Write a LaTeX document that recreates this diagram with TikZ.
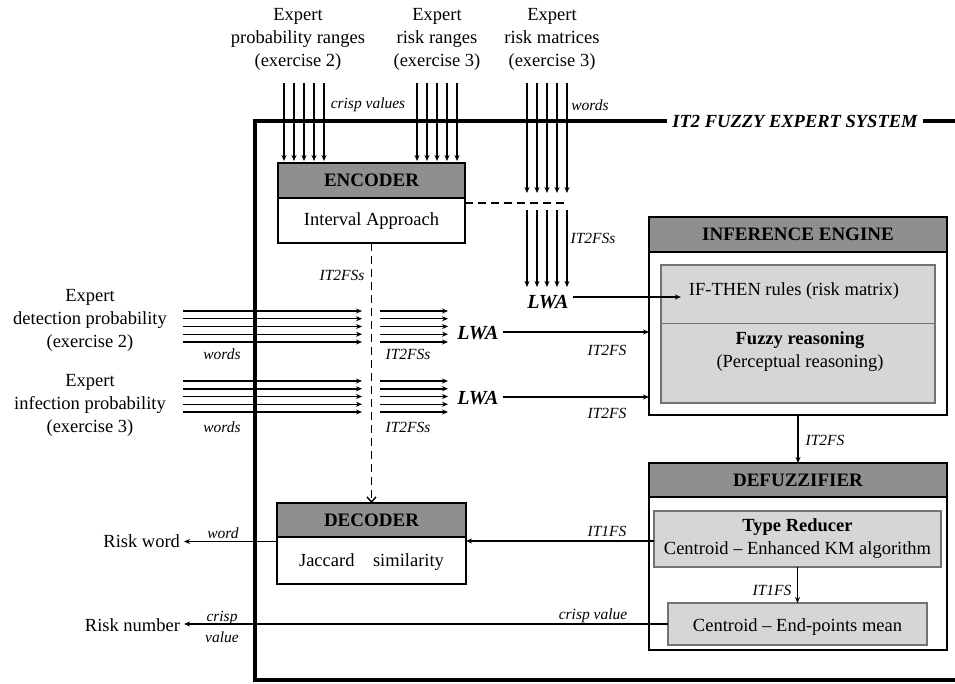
\documentclass[tikz,border=0pt]{standalone}
\usepackage{fontspec}
\setmainfont{Liberation Serif}
\usetikzlibrary{arrows.meta,calc}
\newcommand{\mkbox}[7]{%
  \node[box, minimum width=#4pt, minimum height=#5pt, anchor=north west] (#1) at (#2,#3) {};
  \fill[hdr] (#1.north west) rectangle ($(#1.north east)+(0,#6)$);
  \draw[line width=1.7pt] (#1.north west) rectangle (#1.south east);
  \draw[line width=1.2pt] ($(#1.north west)+(0,#6)$) -- ($(#1.north east)+(0,#6)$);
  \node[hdrtxt] (#1h) at ($(#1.north)+(0,#6/2)$) {#7};
}
\begin{document}
\begin{tikzpicture}[x=1pt,y=-1pt,
  every node/.style={inner sep=0pt, outer sep=0pt},
  txt/.style={font=\fontsize{18.5}{23}\selectfont, align=center},
  lbl/.style={font=\fontsize{15.5}{18}\selectfont\itshape},
  hdrtxt/.style={font=\fontsize{19}{22}\selectfont\bfseries},
  lwa/.style={font=\fontsize{20}{22}\selectfont\bfseries\itshape},
  arr/.style={line width=1.5pt, -{Stealth[length=6pt,width=5pt]}},
  box/.style={draw, line width=1.7pt, fill=white},
  hdr/.style={fill=black!44},
  inner/.style={draw=black!55, line width=1.3pt, fill=black!16},
  frame/.style={line width=3.4pt},
  dsh/.style={line width=1.4pt, dash pattern=on 8pt off 5pt},
]
\useasboundingbox (0,0) rectangle (955,684);

% big frame
\draw[frame] (955,680) -- (255,680) -- (255,121) -- (955,121);
\node[fill=white, inner xsep=5pt, inner ysep=2pt, font=\fontsize{18.5}{20}\selectfont\bfseries\itshape] (sys) at (795,121) {IT2 FUZZY EXPERT SYSTEM};

% boxes
\mkbox{enc}{278}{163}{187}{80}{35}{ENCODER}
\node[txt] (enct) at (371.5,221) {Interval Approach};

\mkbox{inf}{649}{217}{298}{198}{35}{INFERENCE ENGINE}
\node[inner, minimum width=274pt, minimum height=138pt, anchor=north west] (infin) at (661,265) {};
\draw[black!55, line width=0.8pt] ($(infin.north west)+(0,58)$) -- ($(infin.north east)+(0,58)$);
\node[txt] (ifthen) at (794,291) {IF-THEN rules (risk matrix)};
\node[txt] (fr) at (800,352) {\textbf{Fuzzy reasoning}\\(Perceptual reasoning)};

\mkbox{dfz}{649}{463}{298}{187}{34}{DEFUZZIFIER}
\node[inner, minimum width=287pt, minimum height=56pt, anchor=north west] (tr) at (654,511) {};
\node[txt] (trt) at (tr.center) {\textbf{Type Reducer}\\Centroid – Enhanced KM algorithm};
\node[inner, minimum width=259pt, minimum height=42pt, anchor=north west] (ce) at (668,603) {};
\node[txt] (cet) at ($(ce.center)+(0,3)$) {Centroid – End-points mean};

\mkbox{dec}{277}{503}{189}{81}{34}{DECODER}
\node[txt] (dect) at (371.5,562) {Jaccard\quad similarity};

% top texts
\node[txt] (t1) at (298,39) {Expert\\probability ranges\\(exercise 2)};
\node[txt] (t2) at (437,39) {Expert\\risk ranges\\(exercise 3)};
\node[txt] (t3) at (552,39) {Expert\\risk matrices\\(exercise 3)};

% left texts
\node[txt] (d1) at (90,320) {Expert\\detection probability\\(exercise 2)};
\node[txt] (d2) at (90,405) {Expert\\infection probability\\(exercise 3)};
\node[txt, anchor=east] (rw) at (180,541) {Risk word};
\node[txt, anchor=east] (rn) at (180,625) {Risk number};

% LWA nodes
\node[lwa] (lwa3) at (548,302) {LWA};
\node[lwa] (lwa1) at (478,333) {LWA};
\node[lwa] (lwa2) at (478,398) {LWA};

% top bundles
\coordinate (g1) at (304,83);
\coordinate (g2) at (437,83);
\coordinate (g3) at (547,83);
\coordinate (g3e) at (547,193);
\coordinate (g3b) at (547,210);
\coordinate (g3c) at (547,287);
\foreach \d in {-20,-10,0,10,20}{
  \draw[arr, shorten >=2pt] ($(g1)+(\d,0)$) -- ($(g1 |- enc.north)+(\d,0)$);
  \draw[arr, shorten >=2pt] ($(g2)+(\d,0)$) -- ($(g2 |- enc.north)+(\d,0)$);
  \draw[arr] ($(g3)+(\d,0)$) -- ($(g3e)+(\d,0)$);
  \draw[arr] ($(g3b)+(\d,0)$) -- ($(g3c)+(\d,0)$);
}
\node[lbl] (l1) at (368,105) {crisp values};
\node[lbl] (l2) at (590,105) {words};
\node[lbl] (l3) at (593,238) {IT2FSs};

% dashed from encoder
\draw[dsh] (enc.east) -- ($(enc.east -| g3e)+(20,0)$);
\draw[dsh, -{Straight Barb[length=5pt,width=9pt]}] (enc.south) -- (dec.north);
\node[lbl] (l4) at (342,275) {IT2FSs};

% left bundles
\coordinate (b1s) at (183,326.5);
\coordinate (b1m) at (362,326.5);
\coordinate (b1n) at (380,326.5);
\coordinate (b1e) at (448,326.5);
\coordinate (b2s) at (183,396.5);
\coordinate (b2m) at (362,396.5);
\coordinate (b2n) at (380,396.5);
\coordinate (b2e) at (448,396.5);
\foreach \d in {-15.5,-7.75,0,7.75,15.5}{
  \draw[arr] ($(b1s)+(0,\d)$) -- ($(b1m)+(0,\d)$);
  \draw[arr] ($(b1n)+(0,\d)$) -- ($(b1e)+(0,\d)$);
  \draw[arr] ($(b2s)+(0,\d)$) -- ($(b2m)+(0,\d)$);
  \draw[arr] ($(b2n)+(0,\d)$) -- ($(b2e)+(0,\d)$);
}
\node[lbl] (w1) at (222,354) {words};
\node[lbl] (w2) at (222,427) {words};
\node[lbl] (i1) at (408,354) {IT2FSs};
\node[lbl] (i2) at (408,427) {IT2FSs};

% LWA to inference
\draw[arr, shorten <=4pt] ($(lwa3.east)+(0,-5)$) -- ($(ifthen.west |- lwa3.east)+(-8,-5)$);
\draw[arr, shorten <=4pt] ($(lwa1.east)+(0,-1)$) -- ($(lwa1.east -| inf.west)+(0,-1)$);
\draw[arr, shorten <=4pt] ($(lwa2.east)+(0,-1)$) -- ($(lwa2.east -| inf.west)+(0,-1)$);
\node[lbl] (f1) at (607,350) {IT2FS};
\node[lbl] (f2) at (607,413) {IT2FS};

% inference to defuzzifier
\draw[arr] (inf.south) -- (dfz.north);
\node[lbl] (f3) at (825,440) {IT2FS};
\draw[arr] (tr.south) -- (ce.north);
\node[lbl] (f4) at (772,590) {IT1FS};

% outputs
\draw[arr] ($(tr.west)+(0,2)$) -- ($(tr.west -| dec.east)+(0,2)$);
\node[lbl] (f5) at (607,531) {IT1FS};
\draw[arr, shorten >=4pt] ($(dec.west)+(0,-2)$) -- ($(dec.west -| rw.east)+(0,-2)$);
\node[lbl] (f6) at (223,533) {word};
\draw[arr, shorten >=4pt] (ce.west) -- (ce.west -| rn.east);
\node[lbl] (f7) at (593,616) {crisp value};
\node[lbl, align=center, font=\fontsize{15.5}{21}\selectfont\itshape] (f8) at (222,627) {crisp\\value};
\end{tikzpicture}
\end{document}
